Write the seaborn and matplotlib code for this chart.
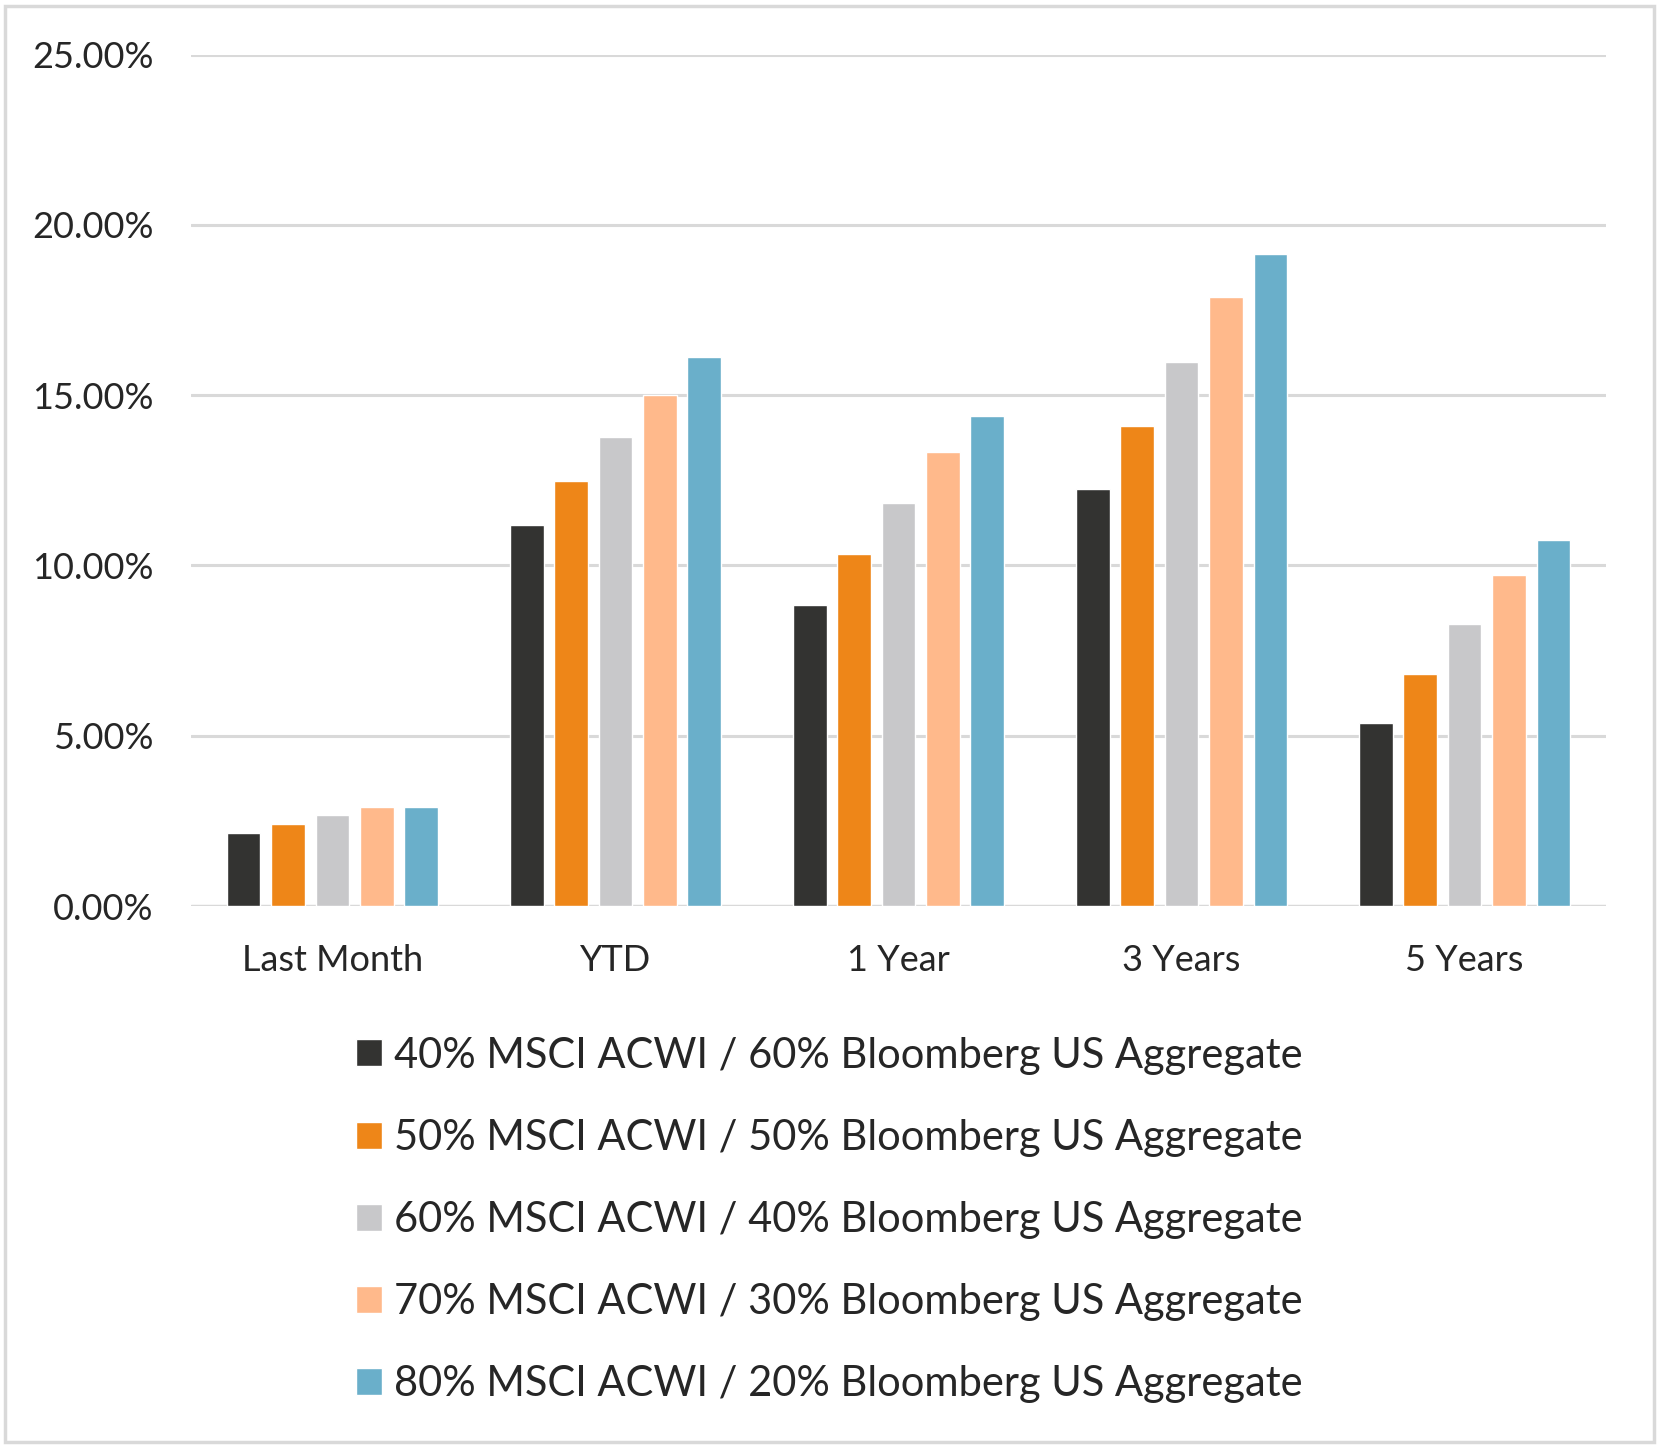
import pandas as pd
import matplotlib
matplotlib.use("Agg")
import matplotlib.pyplot as plt
import seaborn as sns
from matplotlib.patches import Rectangle
from matplotlib.ticker import FuncFormatter

periods = ["Last Month", "YTD", "1 Year", "3 Years", "5 Years"]
portfolios = [
    "40% MSCI ACWI / 60% Bloomberg US Aggregate",
    "50% MSCI ACWI / 50% Bloomberg US Aggregate",
    "60% MSCI ACWI / 40% Bloomberg US Aggregate",
    "70% MSCI ACWI / 30% Bloomberg US Aggregate",
    "80% MSCI ACWI / 20% Bloomberg US Aggregate",
]
ret_40_60 = [2.14, 11.20, 8.84, 12.24, 5.37]
ret_50_50 = [2.42, 12.47, 10.33, 14.09, 6.82]
ret_60_40 = [2.67, 13.77, 11.82, 15.97, 8.28]
ret_70_30 = [2.92, 15.01, 13.34, 17.87, 9.71]
ret_80_20 = [2.92, 16.13, 14.39, 19.14, 10.76]
colors = ["#333331", "#EE8618", "#C8C8CA", "#FFB98B", "#6AAFCA"]

series = [ret_40_60, ret_50_50, ret_60_40, ret_70_30, ret_80_20]
rows = []
for name, vals in zip(portfolios, series):
    for p, v in zip(periods, vals):
        rows.append({"period": p, "portfolio": name, "ret": v})
df = pd.DataFrame(rows)

sns.set_style("white")
plt.rcParams['font.family'] = ['Lato', 'DejaVu Sans']

fig = plt.figure(figsize=(16.59, 14.48), dpi=100)
ax = fig.add_axes([0.1151, 0.3743, 0.853, 0.588])

sns.barplot(data=df, x="period", y="ret", hue="portfolio", order=periods,
            hue_order=portfolios, palette=colors, saturation=1, width=0.785, gap=0.24,
            errorbar=None, ax=ax, zorder=3, legend=True)

ax.set_ylim(0, 25)
ax.set_xlim(-0.5, 4.5)
ax.set_yticks([0, 5, 10, 15, 20, 25])
ax.yaxis.set_major_formatter(FuncFormatter(lambda v, _: f"{v:.2f}%"))
ax.grid(axis="y", color="#D9D9D9", linewidth=2.2, zorder=0)
ax.set_axisbelow(True)
for s in ax.spines.values():
    s.set_visible(False)
ax.axhline(0, color="#D9D9D9", linewidth=2.4, zorder=1)
ax.tick_params(axis="y", length=0, pad=27, labelsize=26)
ax.tick_params(axis="x", length=0, pad=27, labelsize=26)
ax.set_xlabel("")
ax.set_ylabel("")

handles, labels = ax.get_legend_handles_labels()
ax.get_legend().remove()
fig.legend(handles, labels, loc="upper center", bbox_to_anchor=(0.5, 0.310),
           ncol=1, frameon=False, fontsize=30, labelspacing=1.06,
           handlelength=0.62, handleheight=0.62, handletextpad=0.28)

fig.patches.append(Rectangle((0.003, 0.004), 0.994, 0.992, transform=fig.transFigure,
                             fill=False, edgecolor="#D9D9D9", linewidth=2.5))

fig.savefig("out.png", dpi=100)
